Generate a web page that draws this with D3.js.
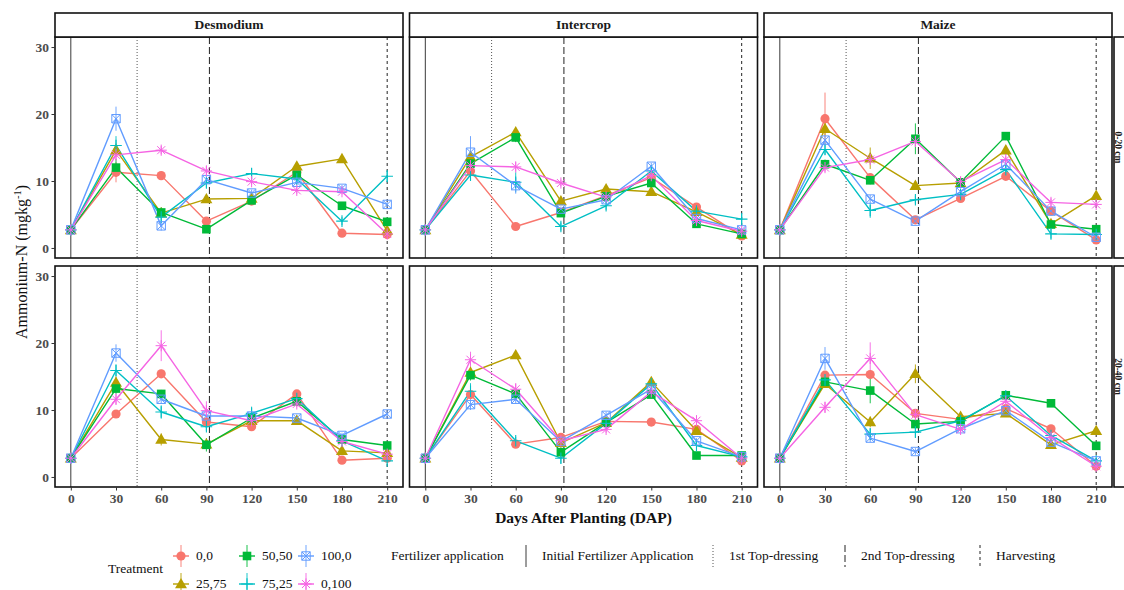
<!DOCTYPE html>
<html>
<head>
<meta charset="utf-8">
<script src="https://cdn.jsdelivr.net/npm/d3@7/dist/d3.min.js"></script>
<style>
  html, body { margin: 0; padding: 0; background: #fff; }
  svg { display: block; }
  text { font-family: "Liberation Serif", "Times New Roman", serif; }
</style>
</head>
<body>
<svg id="chart" width="1124" height="590"></svg>
<script>
// Sampling days and facet levels
const days = [0, 30, 60, 90, 120, 150, 180, 210];
const systems = ["Desmodium", "Intercrop", "Maize"];
const depths = ["0-20 cm", "20-40 cm"];
const treatments = ["0,0", "25,75", "50,50", "75,25", "100,0", "0,100"];
const treatmentColors = ["#F8766D", "#B79F00", "#00BA38", "#00BFC4", "#619CFF", "#F564E3"];
const yTicks = [0, 10, 20, 30];
const xTicks = [0, 30, 60, 90, 120, 150, 180, 210];

// Fertilizer events (days after planting)
const eventNames = ["Initial Fertilizer Application", "1st Top-dressing", "2nd Top-dressing", "Harvesting"];
const eventDays = [0, 44, 92, 210];

// Ammonium-N means (mg/kg), rows follow the treatment order above
const desmodium0_20 = [
  [2.7, 11.3, 10.8, 4.0, 7.0, 11.3, 2.2, 2.0],
  [2.7, 14.6, 5.2, 7.3, 7.4, 12.2, 13.3, 2.6],
  [2.7, 12.0, 5.3, 2.8, 7.1, 10.9, 6.3, 3.9],
  [2.7, 15.3, 4.6, 9.7, 11.1, 10.3, 4.0, 10.7],
  [2.7, 19.3, 3.3, 10.2, 8.2, 9.8, 8.9, 6.5],
  [2.7, 13.9, 14.6, 11.5, 9.9, 8.6, 8.4, 2.1]
];
const intercrop0_20 = [
  [2.7, 11.5, 3.2, 5.3, 7.8, 10.5, 6.1, 1.8],
  [2.7, 13.6, 17.3, 7.0, 8.8, 8.4, 5.4, 2.0],
  [2.7, 12.6, 16.5, 5.2, 7.7, 9.7, 3.6, 2.1],
  [2.7, 10.9, 9.8, 3.2, 6.3, 11.5, 5.5, 4.3],
  [2.7, 14.3, 9.3, 5.8, 7.2, 12.2, 4.4, 2.7],
  [2.7, 12.3, 12.1, 9.7, 7.6, 10.8, 4.1, 2.5]
];
const maize0_20 = [
  [2.7, 19.3, 10.5, 4.2, 7.4, 10.7, 5.5, 1.2],
  [2.7, 17.8, 13.4, 9.3, 9.7, 14.6, 3.6, 7.8],
  [2.7, 12.5, 10.1, 16.3, 9.8, 16.7, 3.5, 2.8],
  [2.7, 14.7, 5.6, 7.2, 8.0, 11.7, 2.1, 2.0],
  [2.7, 16.1, 7.3, 4.0, 8.4, 12.5, 5.5, 1.6],
  [2.7, 12.0, 13.2, 15.9, 9.9, 13.2, 6.8, 6.5]
];
const desmodium20_40 = [
  [2.8, 9.4, 15.4, 8.2, 7.5, 12.4, 2.5, 2.8],
  [2.8, 14.1, 5.6, 4.9, 8.4, 8.4, 3.9, 3.6],
  [2.8, 13.2, 12.4, 4.8, 8.8, 11.3, 5.6, 4.7],
  [2.8, 15.9, 9.7, 7.5, 9.5, 11.7, 5.4, 2.4],
  [2.8, 18.5, 11.6, 9.1, 9.1, 8.8, 6.2, 9.4],
  [2.8, 11.6, 19.6, 9.9, 8.4, 10.9, 5.3, 3.4]
];
const intercrop20_40 = [
  [2.8, 12.3, 4.9, 5.9, 8.3, 8.2, 7.1, 2.4],
  [2.8, 15.6, 18.2, 5.1, 8.1, 14.2, 6.9, 2.9],
  [2.8, 15.2, 12.4, 3.7, 8.1, 12.3, 3.2, 3.2],
  [2.8, 12.8, 5.4, 2.8, 8.0, 13.9, 4.7, 3.0],
  [2.8, 10.8, 11.6, 5.3, 9.2, 13.1, 5.4, 3.0],
  [2.8, 17.5, 13.1, 5.4, 7.1, 12.7, 8.4, 2.8]
];
const maize20_40 = [
  [2.8, 15.2, 15.3, 9.5, 8.6, 10.2, 7.2, 1.6],
  [2.8, 13.9, 8.2, 15.4, 9.0, 9.5, 4.8, 6.9],
  [2.8, 14.2, 12.9, 7.9, 8.3, 12.2, 11.0, 4.65],
  [2.8, 14.5, 6.4, 6.7, 8.4, 12.1, 6.2, 2.4],
  [2.8, 17.7, 5.8, 3.8, 7.2, 9.9, 5.2, 2.4],
  [2.8, 10.4, 17.7, 9.3, 7.1, 11.3, 5.9, 1.6]
];

// Standard errors, same layout as the means
const desmodium0_20SE = [
  [0.3, 1.5, 0.6, 0.5, 0.4, 0.5, 0.3, 0.3],
  [0.3, 1.0, 0.5, 0.5, 0.4, 0.6, 0.6, 0.4],
  [0.3, 1.3, 0.8, 0.5, 0.4, 0.5, 0.4, 0.4],
  [0.3, 1.4, 0.6, 0.7, 0.8, 0.5, 0.6, 0.9],
  [0.3, 1.8, 0.7, 0.6, 0.5, 0.5, 0.5, 0.4],
  [0.3, 0.8, 0.6, 0.7, 0.5, 0.5, 0.4, 0.3]
];
const intercrop0_20SE = [
  [0.3, 0.8, 0.4, 0.4, 0.4, 0.5, 0.4, 0.3],
  [0.3, 0.7, 0.6, 0.5, 0.4, 0.5, 0.4, 0.3],
  [0.3, 0.8, 0.7, 0.4, 0.4, 0.5, 0.3, 0.3],
  [0.3, 0.9, 1.5, 0.6, 0.6, 0.5, 0.4, 0.9],
  [0.3, 2.4, 1.2, 0.4, 0.4, 0.5, 0.4, 0.3],
  [0.3, 0.6, 0.7, 0.5, 0.4, 0.5, 0.3, 0.3]
];
const maize0_20SE = [
  [0.3, 3.9, 0.6, 0.4, 0.5, 0.5, 0.4, 0.3],
  [0.3, 1.0, 1.6, 0.6, 0.6, 0.7, 0.4, 0.4],
  [0.3, 0.7, 0.6, 2.3, 0.5, 0.6, 0.4, 0.3],
  [0.3, 0.8, 1.1, 0.6, 0.5, 0.5, 0.7, 0.3],
  [0.3, 0.7, 0.6, 0.4, 0.4, 0.5, 0.4, 0.3],
  [0.3, 0.6, 0.6, 0.6, 0.4, 0.5, 0.6, 0.3]
];
const desmodium20_40SE = [
  [0.3, 0.5, 0.6, 0.5, 0.4, 0.5, 0.3, 0.3],
  [0.3, 0.9, 0.9, 0.5, 0.4, 0.5, 0.4, 0.4],
  [0.3, 0.8, 0.6, 1.0, 0.5, 0.6, 0.4, 0.4],
  [0.3, 0.9, 1.0, 0.6, 1.0, 0.5, 0.4, 0.4],
  [0.3, 1.3, 0.6, 0.6, 0.5, 0.5, 0.4, 0.5],
  [0.3, 0.8, 2.3, 1.4, 0.5, 0.5, 0.4, 0.3]
];
const intercrop20_40SE = [
  [0.3, 0.6, 0.5, 0.5, 0.4, 0.4, 0.4, 0.3],
  [0.3, 0.7, 0.6, 0.8, 0.5, 0.6, 0.4, 0.3],
  [0.3, 0.8, 0.6, 0.5, 0.4, 0.5, 0.3, 0.3],
  [0.3, 1.2, 0.6, 0.8, 0.4, 0.5, 0.6, 0.3],
  [0.3, 0.8, 0.6, 0.4, 0.5, 0.5, 0.4, 0.3],
  [0.3, 1.2, 0.9, 0.5, 0.5, 0.5, 0.7, 0.3]
];
const maize20_40SE = [
  [0.3, 0.6, 0.6, 0.5, 0.4, 0.5, 0.5, 0.3],
  [0.3, 0.6, 0.8, 1.4, 0.5, 0.5, 0.4, 0.4],
  [0.3, 0.8, 1.9, 0.6, 0.5, 0.5, 0.5, 0.4],
  [0.3, 1.1, 0.9, 0.8, 0.5, 0.6, 0.5, 0.4],
  [0.3, 1.7, 0.6, 0.5, 0.4, 0.5, 0.4, 0.3],
  [0.3, 0.8, 2.4, 0.7, 0.5, 0.5, 0.5, 0.3]
];

const panelMeans = [
  [desmodium0_20, intercrop0_20, maize0_20],
  [desmodium20_40, intercrop20_40, maize20_40]
];
const panelSE = [
  [desmodium0_20SE, intercrop0_20SE, maize0_20SE],
  [desmodium20_40SE, intercrop20_40SE, maize20_40SE]
];

// ---- layout ----
const svg = d3.select("#chart");
const panelLeft = [55, 409.5, 764];
const panelW = 348;
const panelTop = [37, 266];
const panelH = 221;
const stripH = 24;

const x = d3.scaleLinear().domain([-10.5, 220.5]).range([0, panelW]);
const y = d3.scaleLinear().domain([-1.5, 31.5]).range([panelH, 0]);

// marker drawing by treatment index
const sym = (type, size) => d3.symbol().type(type).size(size)();
function drawMarker(g, idx, color) {
  if (idx === 0) {
    g.append("circle").attr("r", 4.6).attr("fill", color);
  } else if (idx === 1) {
    g.append("path").attr("d", sym(d3.symbolTriangle, 62)).attr("fill", color).attr("transform", "translate(0,0.8)");
  } else if (idx === 2) {
    g.append("rect").attr("x", -4.3).attr("y", -4.3).attr("width", 8.6).attr("height", 8.6).attr("fill", color);
  } else if (idx === 3) {
    g.append("path").attr("d", "M-5.8,0H5.8M0,-5.8V5.8").attr("stroke", color).attr("stroke-width", 1.1).attr("fill", "none");
  } else if (idx === 4) {
    g.append("path").attr("d", "M-4.2,-4.2H4.2V4.2H-4.2Z M-4.2,-4.2L4.2,4.2M4.2,-4.2L-4.2,4.2")
      .attr("stroke", color).attr("stroke-width", 1).attr("fill", "none");
  } else {
    g.append("path").attr("d", "M-5.6,0H5.6M0,-5.6V5.6M-4,-4L4,4M4,-4L-4,4")
      .attr("stroke", color).attr("stroke-width", 1).attr("fill", "none");
  }
}

const eventStyles = [
  { dash: null, color: "#3a3a3a", width: 1 },
  { dash: "1,2", color: "#555", width: 1 },
  { dash: "7,3", color: "#222", width: 1 },
  { dash: "3,3", color: "#222", width: 1 }
];

const line = d3.line().x((d, i) => x(days[i])).y(d => y(d));

depths.forEach((depth, r) => {
  systems.forEach((sys, c) => {
    const g = svg.append("g").attr("transform", `translate(${panelLeft[c]},${panelTop[r]})`);
    g.append("rect").attr("width", panelW).attr("height", panelH).attr("fill", "#fff");

    // event reference lines
    eventDays.forEach((d, k) => {
      const st = eventStyles[k];
      g.append("line")
        .attr("x1", x(d)).attr("x2", x(d)).attr("y1", 0).attr("y2", panelH)
        .attr("stroke", st.color).attr("stroke-width", st.width)
        .attr("stroke-dasharray", st.dash);
    });

    const means = panelMeans[r][c];
    const se = panelSE[r][c];

    // error bars
    means.forEach((series, t) => {
      series.forEach((v, i) => {
        g.append("line")
          .attr("x1", x(days[i])).attr("x2", x(days[i]))
          .attr("y1", y(v - se[t][i])).attr("y2", y(v + se[t][i]))
          .attr("stroke", treatmentColors[t]).attr("stroke-width", 0.9);
      });
    });
    // lines
    means.forEach((series, t) => {
      g.append("path").attr("d", line(series)).attr("fill", "none")
        .attr("stroke", treatmentColors[t]).attr("stroke-width", 1.4)
        .attr("stroke-linejoin", "round");
    });
    // points
    means.forEach((series, t) => {
      series.forEach((v, i) => {
        const m = g.append("g").attr("transform", `translate(${x(days[i])},${y(v)})`);
        drawMarker(m, t, treatmentColors[t]);
      });
    });

    // panel border
    g.append("rect").attr("width", panelW).attr("height", panelH)
      .attr("fill", "none").attr("stroke", "#111").attr("stroke-width", 1.6);

    // top strips
    if (r === 0) {
      const s = svg.append("g").attr("transform", `translate(${panelLeft[c]},${panelTop[0] - stripH})`);
      s.append("rect").attr("width", panelW).attr("height", stripH)
        .attr("fill", "#fff").attr("stroke", "#111").attr("stroke-width", 1.6);
      s.append("text").attr("x", panelW / 2).attr("y", stripH / 2 + 0.5)
        .attr("text-anchor", "middle").attr("dominant-baseline", "middle")
        .attr("font-weight", "bold").attr("font-size", 13.5).attr("fill", "#1a1a1a").text(sys);
    }
    // right strips (run past the right edge of the canvas)
    if (c === 2) {
      const sx = panelLeft[2] + panelW + 2;
      const s = svg.append("g").attr("transform", `translate(${sx},${panelTop[r]})`);
      s.append("rect").attr("width", stripH).attr("height", panelH)
        .attr("fill", "#fff").attr("stroke", "#111").attr("stroke-width", 1.6);
      s.append("text").attr("transform", `translate(1.3,${panelH / 2}) rotate(90)`)
        .attr("text-anchor", "middle")
        .attr("font-weight", "bold").attr("font-size", 9.5).attr("fill", "#1a1a1a").text(depth);
    }

    // y axis on the first column
    if (c === 0) {
      const ya = d3.axisLeft(y).tickValues(yTicks).tickSize(3.5).tickPadding(2.5);
      const ag = g.append("g").call(ya);
      ag.select(".domain").remove();
      ag.selectAll(".tick line").attr("stroke", "#333");
      ag.selectAll(".tick text").attr("font-family", "Liberation Serif, serif")
        .attr("font-size", 13.5).attr("font-weight", "bold").attr("fill", "#4d4d4d");
    }
    // x axis on the bottom row
    if (r === 1) {
      const xa = d3.axisBottom(x).tickValues(xTicks).tickSize(3.5).tickPadding(2.5);
      const ag = g.append("g").attr("transform", `translate(0,${panelH})`).call(xa);
      ag.select(".domain").remove();
      ag.selectAll(".tick line").attr("stroke", "#333");
      ag.selectAll(".tick text").attr("font-family", "Liberation Serif, serif")
        .attr("font-size", 13.5).attr("font-weight", "bold").attr("fill", "#4d4d4d");
    }
  });
});

// axis titles
const plotMidX = (panelLeft[0] + panelLeft[2] + panelW) / 2;
svg.append("text").attr("x", plotMidX).attr("y", 523)
  .attr("text-anchor", "middle").attr("font-weight", "bold").attr("font-size", 15.5)
  .attr("fill", "#111").text("Days After Planting (DAP)");

const yTitle = svg.append("text")
  .attr("transform", `translate(27,${(panelTop[0] + panelTop[1] + panelH) / 2}) rotate(-90)`)
  .attr("text-anchor", "middle").attr("font-size", 16).attr("fill", "#111");
yTitle.append("tspan").text("Ammonium-N (mgkg");
yTitle.append("tspan").attr("font-size", 10.5).attr("dy", -6).text("-1");
yTitle.append("tspan").attr("dy", 6).text(")");

// ---- legends ----
const leg = svg.append("g");
leg.append("text").attr("x", 108).attr("y", 570).attr("dominant-baseline", "middle")
  .attr("font-size", 13.5).attr("fill", "#111").text("Treatment");

const keyX = [181, 247, 306];
const keyY = [556, 584];
treatments.forEach((name, t) => {
  const col = Math.floor(t / 2), row = t % 2;
  const kx = keyX[col], ky = keyY[row];
  const k = leg.append("g").attr("transform", `translate(${kx},${ky})`);
  k.append("line").attr("x1", 0).attr("x2", 0).attr("y1", -11).attr("y2", 11)
    .attr("stroke", treatmentColors[t]).attr("stroke-width", 0.9);
  k.append("line").attr("x1", -8).attr("x2", 8).attr("y1", 0).attr("y2", 0)
    .attr("stroke", treatmentColors[t]).attr("stroke-width", 1.4);
  drawMarker(k, t, treatmentColors[t]);
  leg.append("text").attr("x", kx + 15).attr("y", ky + 1).attr("dominant-baseline", "middle")
    .attr("font-size", 13.5).attr("fill", "#111").text(name);
});

leg.append("text").attr("x", 391).attr("y", 557).attr("dominant-baseline", "middle")
  .attr("font-size", 13.5).attr("fill", "#111").text("Fertilizer application");
const evKeyX = [526, 713, 845, 980];
eventNames.forEach((name, k) => {
  const st = eventStyles[k];
  leg.append("line").attr("x1", evKeyX[k]).attr("x2", evKeyX[k]).attr("y1", 545).attr("y2", 567)
    .attr("stroke", st.color).attr("stroke-width", st.width).attr("stroke-dasharray", st.dash);
  leg.append("text").attr("x", evKeyX[k] + 16).attr("y", 557).attr("dominant-baseline", "middle")
    .attr("font-size", 13.5).attr("fill", "#111").text(name);
});
</script>
</body>
</html>
